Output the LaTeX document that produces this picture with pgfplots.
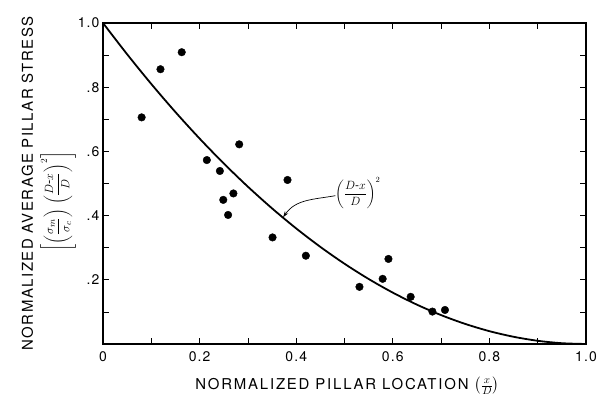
\documentclass[border=0pt]{standalone}
\usepackage{amsmath}
\usepackage{fontspec}
\setmainfont{TeX Gyre Heros}
\newfontfamily\lab[LetterSpace=10]{TeX Gyre Heros}
\newfontfamily\labx[LetterSpace=12]{TeX Gyre Heros}
\newfontfamily\tlab[LetterSpace=8]{TeX Gyre Heros}
\usepackage{pgfplots}
\pgfplotsset{compat=1.18}
\usetikzlibrary{arrows.meta}
\begin{document}
\begin{tikzpicture}
\useasboundingbox (-103bp,-69bp) rectangle (496bp,344bp);
\begin{axis}[
  scale only axis,
  width=483bp, height=321bp,
  xmin=0, xmax=1, ymin=0, ymax=1,
  axis line style={line width=1.3pt},
  tick style={black, line width=0.8pt},
  tick align=inside,
  major tick length=6bp, minor tick length=6bp,
  xtick={0,0.2,0.4,0.6,0.8,1.0},
  xticklabels={0,0.2,0.4,0.6,0.8,1.0},
  minor xtick={0.1,0.3,0.5,0.7,0.9},
  ytick={0.2,0.4,0.6,0.8,1.0},
  yticklabels={.2,.4,.6,.8,1.0},
  minor ytick={0.1,0.3,0.5,0.7,0.9},
  /pgf/number format/assume math mode=true,
  tick label style={font=\fontsize{14}{16}\selectfont\tlab},
  xticklabel style={yshift=-4bp},
  xlabel={NORMALIZED PILLAR LOCATION $\left(\frac{x}{D}\right)$},
  xlabel style={font=\fontsize{15}{18}\selectfont\labx, at={(axis description cs:0.506,0)}, anchor=north, inner sep=0pt, yshift=-33bp},
  ylabel={NORMALIZED AVERAGE PILLAR STRESS\\[6bp] {\fontsize{13}{15}\selectfont$\left[\left(\dfrac{\sigma_m}{\sigma_c}\right)\,\left(\dfrac{D\mbox{-}x}{D}\right)^{2}\right]$}\rule{36bp}{0pt}},
  ylabel style={font=\fontsize{15}{18}\selectfont\lab, align=center, at={(axis description cs:-0.112,0.50)}, anchor=center},
  clip=false,
]
\addplot[black, line width=1.8pt, smooth] coordinates {
(0,1.0) (0.05,0.9025) (0.1,0.81) (0.15,0.7225) (0.2,0.64) (0.25,0.5625)
(0.3,0.49) (0.35,0.4225) (0.4,0.36) (0.45,0.3025) (0.5,0.25) (0.55,0.2025)
(0.6,0.16) (0.65,0.1225) (0.7,0.09) (0.75,0.0625) (0.8,0.04) (0.85,0.0225)
(0.9,0.01) (0.95,0.0025) (1.0,0)
};
\addplot[only marks, mark=*, mark size=3.8bp, black] coordinates {
(0.080,0.706) (0.119,0.856) (0.163,0.909) (0.215,0.573) (0.242,0.539)
(0.270,0.469) (0.249,0.449) (0.282,0.622) (0.259,0.402) (0.382,0.511)
(0.351,0.332) (0.420,0.275) (0.531,0.178) (0.579,0.203) (0.591,0.265)
(0.637,0.147) (0.682,0.101) (0.708,0.106)
};
\node[font=\fontsize{12}{15}\selectfont, anchor=west, inner sep=1bp] at (axis cs:0.478,0.47) {$\left(\dfrac{D\mbox{-}x}{D}\right)^{2}$};
\draw[-{Stealth[length=6bp,width=4bp]}, line width=0.7pt] (axis cs:0.481,0.462) to[out=190,in=55] (axis cs:0.373,0.395);
\end{axis}
\end{tikzpicture}
\end{document}
